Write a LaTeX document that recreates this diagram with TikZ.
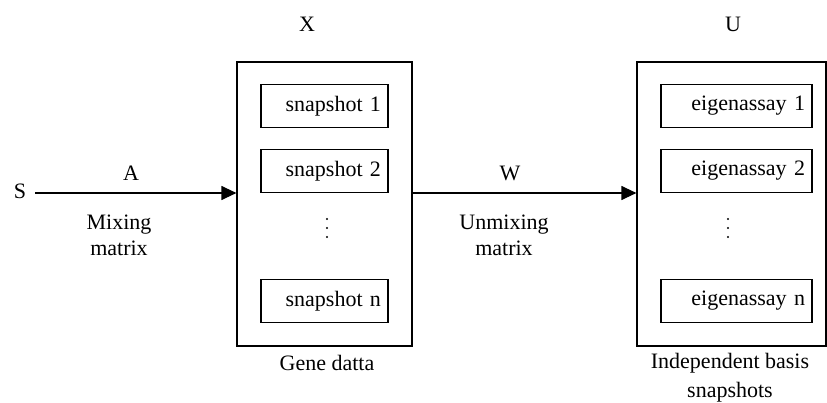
\documentclass[tikz,border=0pt]{standalone}
\usepackage{fontspec}
\setmainfont{Liberation Serif}
\usetikzlibrary{arrows.meta}
\begin{document}
\begin{tikzpicture}[x=1pt,y=-1pt,
  font=\fontsize{22}{25}\selectfont,
  every node/.style={inner sep=0pt},
  frame/.style={draw, line width=1.2pt, minimum height=284pt},
  item/.style={draw, line width=1.2pt, minimum height=43pt, inner xsep=7pt, align=right},
  flow/.style={line width=1.2pt, -{Triangle[length=15pt,width=14pt]}},
  lbl/.style={align=center},
  dotmark/.style={circle, fill, minimum size=2.2pt}]
\useasboundingbox (0,0) rectangle (827,403);

% data matrix X
\node[frame, minimum width=175pt] (gene) at (324.5,204) {};
\node[item, text width=113pt] (s1) at (324.5,106) {snapshot 1};
\node[item, text width=113pt] (s2) at (324.5,171) {snapshot 2};
\node[item, text width=113pt] (sn) at (324.5,301) {snapshot n};
\foreach \y [count=\i] in {219,228,237} \node[dotmark] (sd\i) at (327,\y) {};
\node (xlab) at (307,24) {X};
\node (glab) at (327,363) {Gene datta};

% basis snapshots U
\node[frame, minimum width=189pt] (basis) at (731.5,204) {};
\node[item, text width=137pt] (e1) at (736.5,106) {eigenassay 1};
\node[item, text width=137pt] (e2) at (736.5,171) {eigenassay 2};
\node[item, text width=137pt] (en) at (736.5,301) {eigenassay n};
\foreach \y [count=\i] in {219,228,237} \node[dotmark] (ed\i) at (728,\y) {};
\node (ulab) at (733,24) {U};
\node[lbl, font=\fontsize{22}{29}\selectfont] (blab) at (730,377.5) {Independent basis\\snapshots};

% sources and mixing
\node (src) at (20,191) {S};
\coordinate (srcend) at (35,193);
\draw[flow] (srcend) -- (srcend -| gene.west);
\node (alab) at (131,173) {A};
\node[lbl, font=\fontsize{22}{26}\selectfont] (mix) at (119,235) {Mixing\\matrix};

% unmixing
\coordinate (wstart) at (gene.east |- srcend);
\draw[flow] (wstart) -- (wstart -| basis.west);
\node (wlab) at (510,173) {W};
\node[lbl, font=\fontsize{22}{26}\selectfont] (unmix) at (504,235) {Unmixing\\matrix};
\end{tikzpicture}
\end{document}
